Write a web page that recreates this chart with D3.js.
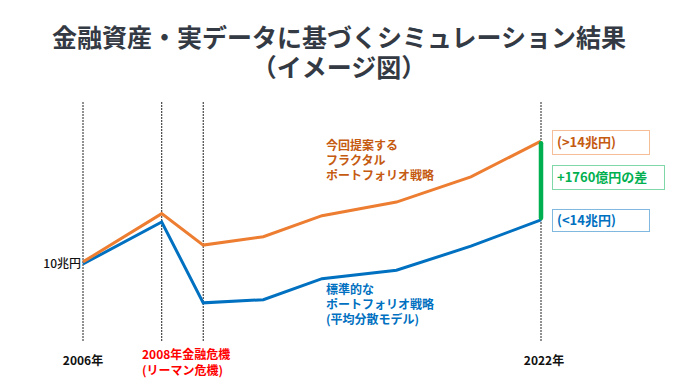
<!DOCTYPE html>
<html><head><meta charset="utf-8">
<script src="https://cdn.jsdelivr.net/npm/d3@7"></script>
<style>
body{margin:0;background:#fff;}
svg{display:block;font-family:"Noto Sans CJK JP","Noto Sans",sans-serif;}
</style></head>
<body><svg id="c" width="676" height="381"></svg>
<script>
// data (illustrative values in 兆円)
const years = [2006, 2008.75, 2010.2, 2012.3, 2014.35, 2016.95, 2019.55, 2022];
const fractal = [10.1, 12.4, 10.9, 11.3, 12.3, 12.95, 14.15, 15.85];
const meanVar = [10.0, 12.0, 8.15, 8.3, 9.3, 9.7, 10.85, 12.1];
const markerYears = [2006, 2008.75, 2010.2, 2022];
const xTickLabels = [{x: 2006, t: "2006年"}, {x: 2022, t: "2022年"}];
const yTickValues = [10];
const yTickLabels = ["10兆円"];

const svg = d3.select("#c");
const x = d3.scaleLinear().domain([2006, 2022]).range([83, 541]);
const y = d3.scaleLinear().domain([8, 16]).range([306, 138]);

// title
svg.append("text").attr("x", 339).attr("y", 47).attr("text-anchor", "middle")
  .attr("font-size", 25).attr("font-weight", 700).attr("fill", "#343a44")
  .text("金融資産・実データに基づくシミュレーション結果");
svg.append("text").attr("x", 339).attr("y", 77).attr("text-anchor", "middle")
  .attr("font-size", 25).attr("font-weight", 700).attr("fill", "#343a44")
  .text("（イメージ図）");

// vertical marker lines
svg.append("g").selectAll("line").data(markerYears).join("line")
  .attr("x1", d => x(d)).attr("x2", d => x(d))
  .attr("y1", 102).attr("y2", 342)
  .attr("stroke", "#222").attr("stroke-width", 1).attr("stroke-dasharray", "2,1");

// y tick label
svg.append("g").selectAll("text").data(yTickValues).join("text")
  .attr("x", 81).attr("y", d => y(d)).attr("dy", "0.35em")
  .attr("text-anchor", "end").attr("font-size", 12).attr("font-weight", 500).attr("fill", "#111")
  .text((d, i) => yTickLabels[i]);

// x labels
svg.append("g").selectAll("text").data(xTickLabels).join("text")
  .attr("x", d => x(d.x) + (d.x === 2022 ? 3 : 0)).attr("y", 365)
  .attr("text-anchor", "middle").attr("font-size", 12).attr("font-weight", 700).attr("fill", "#111")
  .text(d => d.t);
svg.append("text").attr("x", 142).attr("y", 359)
  .attr("font-size", 12).attr("font-weight", 700).attr("fill", "#ff0000").text("2008年金融危機");
svg.append("text").attr("x", 142).attr("y", 375)
  .attr("font-size", 12).attr("font-weight", 700).attr("fill", "#ff0000").text("(リーマン危機)");

// lines
const line = d3.line().x((d, i) => x(years[i])).y(d => y(d));
svg.append("path").datum(meanVar).attr("d", line).attr("fill", "none")
  .attr("stroke", "#0070c0").attr("stroke-width", 3).attr("stroke-linejoin", "miter");
svg.append("path").datum(fractal).attr("d", line).attr("fill", "none")
  .attr("stroke", "#ed7d31").attr("stroke-width", 3).attr("stroke-linejoin", "miter");

// green difference bar
const last = years.length - 1;
svg.append("line").attr("x1", x(years[last])).attr("x2", x(years[last]))
  .attr("y1", y(fractal[last]) + 2).attr("y2", y(meanVar[last]) - 2)
  .attr("stroke", "#00b050").attr("stroke-width", 4.5).attr("stroke-linecap", "round");

// series labels
const orangeLbl = ["今回提案する", "フラクタル", "ポートフォリオ戦略"];
const blueLbl = ["標準的な", "ポートフォリオ戦略", "(平均分散モデル)"];
svg.append("g").selectAll("text").data(orangeLbl).join("text")
  .attr("x", 326).attr("y", (d, i) => 150 + i * 15).attr("font-size", 12).attr("font-weight", 700).attr("fill", "#c55a11")
  .text(d => d);
svg.append("g").selectAll("text").data(blueLbl).join("text")
  .attr("x", 326).attr("y", (d, i) => 294 + i * 15).attr("font-size", 12).attr("font-weight", 700).attr("fill", "#0070c0")
  .text(d => d);

// boxes
const boxes = [
  {x: 552, y: 130, w: 97, h: 24, c: "#ed7d31", tc: "#c55a11", t: "(>14兆円)", tx: 557, bold: true},
  {x: 552, y: 165, w: 112, h: 24, c: "#00b050", tc: "#00b050", t: "+1760億円の差", tx: 557, bold: true},
  {x: 552, y: 209, w: 97, h: 22, c: "#0070c0", tc: "#0070c0", t: "(<14兆円)", tx: 557, bold: true}
];
const bg = svg.append("g").selectAll("g").data(boxes).join("g");
bg.append("rect").attr("x", d => d.x + 0.5).attr("y", d => d.y + 0.5).attr("width", d => d.w).attr("height", d => d.h)
  .attr("fill", "none").attr("stroke", d => d.c).attr("stroke-width", 1).attr("stroke-dasharray", "1,1");
bg.append("text").attr("x", d => d.tx).attr("y", d => d.y + d.h / 2).attr("dy", "0.35em")
  .attr("font-size", 13).attr("font-weight", d => d.bold ? 700 : 500).attr("fill", d => d.tc).text(d => d.t);
</script></body></html>
